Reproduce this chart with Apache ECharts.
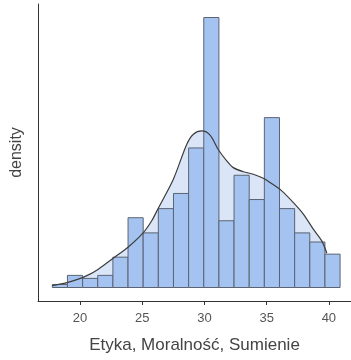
<!DOCTYPE html>
<html>
<head>
<meta charset="utf-8">
<script src="https://cdn.jsdelivr.net/npm/echarts@6/dist/echarts.min.js"></script>
<style>
  html, body { margin: 0; padding: 0; background: #fff; }
  #chart { width: 351px; height: 360px; }
</style>
</head>
<body>
<div id="chart"></div>
<script>
// Histogram of scores (counts per bin) with a kernel density overlay
const binStart = 17.77;
const binWidth = 1.2175;
const binCounts = [1, 4, 3, 4, 10, 23, 18, 26, 31, 46, 89, 22, 37, 29, 56, 26, 18, 15, 11];

// Density curve points: [score, density]
const curveX = [17.77, 18.79, 19.86, 20.67, 21.47, 22.68, 23.83, 25.09, 25.76, 26.29, 27.50,
                28.58, 29.11, 29.78, 30.45, 31.12, 31.79, 32.32, 33.13, 33.93, 34.73,
                35.27, 36.21, 37.15, 37.95, 38.75, 39.43, 39.83];
const curveY = [0.0011, 0.0025, 0.0048, 0.0073, 0.0106, 0.0170, 0.0231, 0.0317, 0.0385, 0.0458, 0.0625,
                0.0827, 0.0885, 0.0904, 0.0880, 0.0795, 0.0731, 0.0692, 0.0668, 0.0654, 0.0631,
                0.0606, 0.0558, 0.0490, 0.0424, 0.0337, 0.0269, 0.0199];

const xTicks = [20, 25, 30, 35, 40];

const total = binCounts.reduce((a, b) => a + b, 0);
const bins = binCounts.map((c, i) => [
  binStart + i * binWidth,
  binStart + (i + 1) * binWidth,
  c / (total * binWidth)
]);
const curve = curveX.map((x, i) => [x, curveY[i]]);

const maxD = Math.max(...bins.map(b => b[2]));
const yPad = maxD * 0.05;

const chart = echarts.init(document.getElementById('chart'));
chart.setOption({
  animation: false,
  grid: { left: 38, right: 0, top: 4, bottom: 59 },
  xAxis: {
    type: 'value',
    min: 16.62,
    max: 41.78,
    name: 'Etyka, Moralność, Sumienie',
    nameLocation: 'middle',
    nameGap: 36,
    nameTextStyle: { fontFamily: 'Liberation Sans', fontSize: 17, color: '#444' },
    axisLine: { show: true, onZero: false, lineStyle: { color: '#333', width: 1 } },
    axisTick: { show: true, length: 4, customValues: xTicks, lineStyle: { color: '#333' } },
    axisLabel: { customValues: xTicks, fontFamily: 'Liberation Sans', fontSize: 13, color: '#555', margin: 11 },
    splitLine: { show: false }
  },
  yAxis: {
    type: 'value',
    min: -yPad,
    max: maxD + yPad,
    name: 'density',
    nameLocation: 'middle',
    nameGap: 13,
    nameTextStyle: { fontFamily: 'Liberation Sans', fontSize: 16, color: '#444' },
    axisLine: { show: true, onZero: false, lineStyle: { color: '#333', width: 1 } },
    axisTick: { show: false },
    axisLabel: { show: false },
    splitLine: { show: false }
  },
  series: [
    {
      type: 'line',
      data: curve,
      smooth: 0.3,
      symbol: 'none',
      z: 1,
      lineStyle: { width: 0 },
      areaStyle: { color: '#dae5f7', opacity: 1, origin: 0 }
    },
    {
      type: 'custom',
      z: 2,
      data: bins,
      renderItem: function (params, api) {
        const p0 = api.coord([api.value(0), api.value(2)]);
        const p1 = api.coord([api.value(1), 0]);
        return {
          type: 'rect',
          shape: { x: p0[0], y: p0[1], width: p1[0] - p0[0], height: p1[1] - p0[1] },
          style: { fill: '#a4c3f1', stroke: '#5b6472', lineWidth: 1 }
        };
      }
    },
    {
      type: 'line',
      data: curve,
      smooth: 0.3,
      symbol: 'none',
      z: 3,
      lineStyle: { color: '#3d3d3d', width: 1.2 }
    }
  ]
});
</script>
</body>
</html>
